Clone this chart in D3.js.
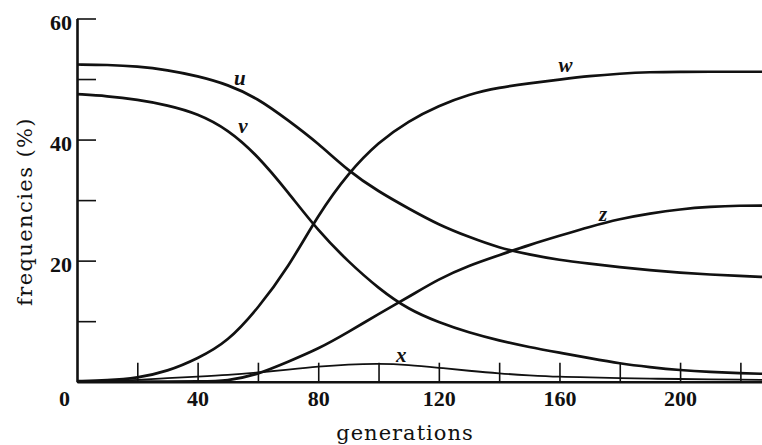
<!DOCTYPE html>
<html>
<head>
<meta charset="utf-8">
<script src="https://cdn.jsdelivr.net/npm/d3@7"></script>
<style>
  body { margin: 0; background: #fff; }
  svg { display: block; }
</style>
</head>
<body>
<div id="main"></div>
<script>
// values (frequencies in %)
const gens  = [0, 10, 20, 30, 40, 50, 60, 70, 80, 90, 100, 110, 120, 130, 140, 150, 160, 170, 180, 190, 200, 210, 220, 228];
const uFreq = [52.4, 52.35, 52.1, 51.5, 50.5, 49.1, 46.8, 43.2, 39.4, 34.8, 31.4, 28.6, 25.9, 23.9, 22.1, 21.0, 20.1, 19.5, 18.9, 18.4, 18.0, 17.7, 17.45, 17.3];
const vFreq = [47.5, 47.2, 46.6, 45.7, 44.3, 41.7, 37.3, 31.3, 24.9, 19.8, 15.4, 11.9, 9.8, 8.1, 6.8, 5.7, 4.8, 3.9, 3.0, 2.4, 1.9, 1.6, 1.4, 1.3];
const wFreq = [0.1, 0.2, 0.6, 1.7, 3.8, 6.6, 12.1, 18.8, 27.6, 34.5, 39.6, 43.1, 45.6, 47.5, 48.6, 49.3, 49.9, 50.5, 50.9, 51.15, 51.2, 51.2, 51.2, 51.2];
const xFreq = [0, 0.1, 0.3, 0.6, 0.85, 1.1, 1.5, 2.0, 2.5, 2.85, 3.0, 2.8, 2.3, 1.8, 1.35, 1.05, 0.8, 0.7, 0.6, 0.5, 0.45, 0.4, 0.35, 0.3];
const zFreq = [0, 0, 0, 0, 0.05, 0.1, 1.2, 3.3, 5.4, 8.2, 11.2, 14.0, 17.0, 19.2, 20.9, 22.6, 24.1, 25.6, 26.9, 27.8, 28.5, 28.9, 29.1, 29.1];

const seriesNames = ["u", "v", "w", "x", "z"];
const seriesValues = [uFreq, vFreq, wFreq, xFreq, zFreq];
// where each curve name sits, in (generation, frequency) units
const labelGen  = [54, 55, 162, 107.5, 174.5];
const labelFreq = [49, 41.1, 51.2, 3.3, 26.6];

const xTickMarks  = [20, 40, 60, 80, 100, 120, 140, 160, 180, 200, 220];
const xTickLabels = [0, 40, 80, 120, 160, 200];
const yTickMarks  = [10, 20, 30, 40, 50, 60];
const yTickLabels = [20, 40, 60];

const ctx = {
    w: 762,
    h: 445,
    INK: "#111",
    FONT: "Liberation Serif",
    TITLE_FONT: "DejaVu Serif",
    TICK_LEN: 19,
};

const x = d3.scaleLinear().domain([0, 227.5]).range([77, 763]);
const y = d3.scaleLinear().domain([0, 60]).range([381.7, 18.5]);

function numStyle(sel){
    sel.attr("font-family", ctx.FONT)
       .attr("font-weight", "bold")
       .attr("font-size", 22)
       .attr("fill", ctx.INK);
}

function drawAxes(svg){
    // x axis: marks every 20 pointing up, numbers every 40 below
    let xMarks = svg.append("g").attr("transform", "translate(0," + y(0) + ")")
        .call(d3.axisBottom(x).tickValues(xTickMarks).tickSize(-ctx.TICK_LEN).tickSizeOuter(0).tickFormat(""));
    xMarks.select(".domain").attr("stroke", ctx.INK).attr("stroke-width", 2.6);
    xMarks.selectAll(".tick line").attr("stroke", ctx.INK).attr("stroke-width", 1.6);

    let xNums = svg.append("g").attr("transform", "translate(0," + y(0) + ")")
        .call(d3.axisBottom(x).tickValues(xTickLabels).tickSize(0).tickFormat(d3.format("d")));
    xNums.attr("font-family", ctx.FONT).attr("font-size", 22);
    xNums.select(".domain").remove();
    xNums.selectAll("text").attr("dy", null).attr("y", 24).call(numStyle);
    // the shared zero sits left of the corner
    xNums.selectAll(".tick").filter(d => d === 0).select("text").attr("x", -13);

    // y axis: marks every 10 pointing right, numbers every 20
    let yMarks = svg.append("g").attr("transform", "translate(" + x(0) + ",0)")
        .call(d3.axisLeft(y).tickValues(yTickMarks).tickSize(-ctx.TICK_LEN).tickSizeOuter(0).tickFormat(""));
    yMarks.select(".domain").attr("stroke", ctx.INK).attr("stroke-width", 2.6);
    yMarks.selectAll(".tick line").attr("stroke", ctx.INK).attr("stroke-width", 1.6);

    let yNums = svg.append("g").attr("transform", "translate(" + x(0) + ",0)")
        .call(d3.axisLeft(y).tickValues(yTickLabels).tickSize(0).tickFormat(d3.format("d")));
    yNums.attr("font-family", ctx.FONT).attr("font-size", 22);
    yNums.select(".domain").remove();
    yNums.selectAll("text").attr("dy", null).attr("y", 11).attr("x", -5).call(numStyle);

    svg.append("text")
        .attr("x", 405).attr("y", 440)
        .attr("text-anchor", "middle")
        .attr("font-family", ctx.TITLE_FONT).attr("font-size", 21)
        .attr("letter-spacing", 1)
        .attr("fill", ctx.INK)
        .text("generations");

    svg.append("text")
        .attr("transform", "translate(32,211.5) rotate(-90)")
        .attr("text-anchor", "middle")
        .attr("font-family", ctx.TITLE_FONT).attr("font-size", 21)
        .attr("letter-spacing", 1.4)
        .attr("fill", ctx.INK)
        .text("frequencies (%)");
}

function drawCurves(svg){
    let line = d3.line()
        .x(d => x(d[0]))
        .y(d => y(d[1]))
        .curve(d3.curveBasis);

    let curves = svg.append("g").attr("id", "curves");
    seriesNames.forEach(function(name, i){
        let pts = gens.map((g, j) => [g, seriesValues[i][j]]);
        curves.append("path")
            .attr("d", line(pts))
            .attr("fill", "none")
            .attr("stroke", ctx.INK)
            .attr("stroke-width", name === "x" ? 1.8 : 2.7)
            .attr("stroke-linejoin", "round");
    });

    let names = svg.append("g").attr("id", "names");
    seriesNames.forEach(function(name, i){
        names.append("text")
            .attr("x", x(labelGen[i]))
            .attr("y", y(labelFreq[i]))
            .attr("text-anchor", "middle")
            .attr("font-family", ctx.FONT)
            .attr("font-style", "italic")
            .attr("font-weight", "bold")
            .attr("font-size", 21)
            .attr("fill", ctx.INK)
            .text(name);
    });
}

function createViz(){
    let svg = d3.select("#main").append("svg")
        .attr("width", ctx.w)
        .attr("height", ctx.h);
    svg.append("rect").attr("width", ctx.w).attr("height", ctx.h).attr("fill", "#fff");
    drawCurves(svg);
    drawAxes(svg);
}

createViz();
</script>
</body>
</html>
